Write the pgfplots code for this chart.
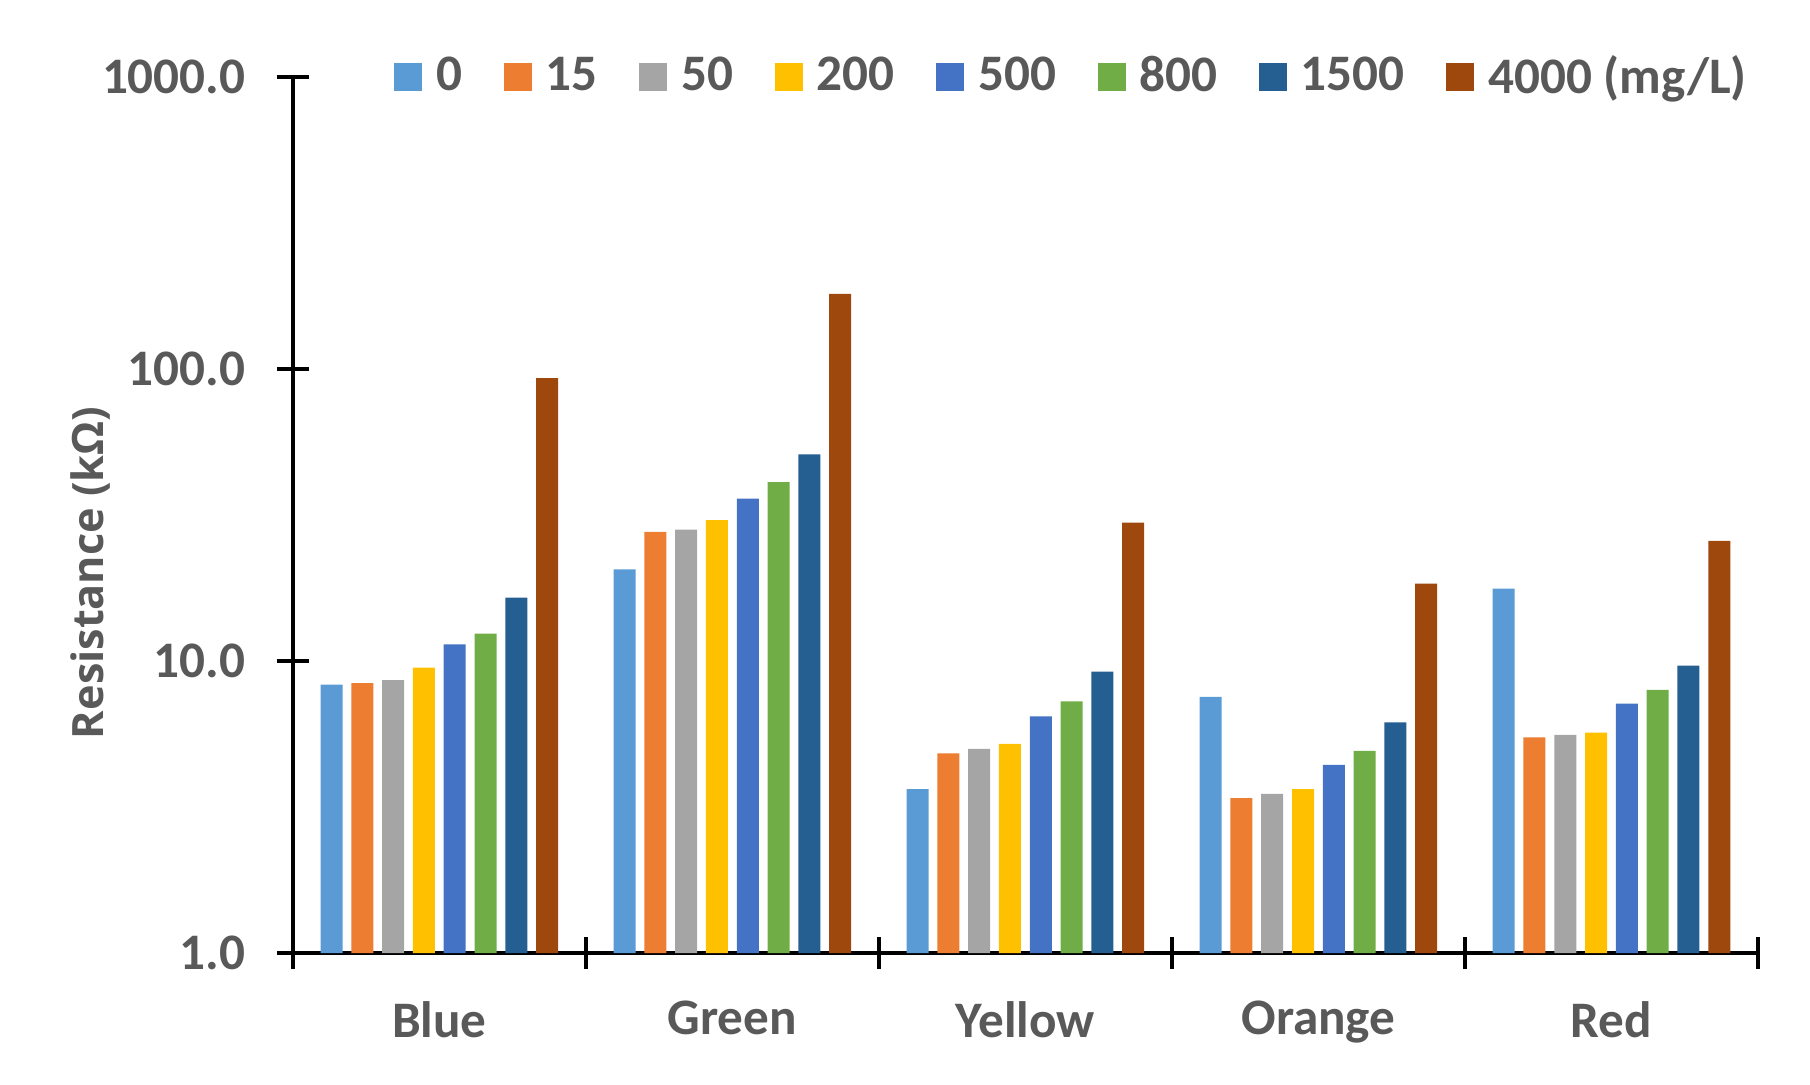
\documentclass[border=0pt]{standalone}
\usepackage{fontspec}
\setmainfont{Carlito}
\newfontfamily\labfont{Open Sans}
\usepackage{pgfplots}
\pgfplotsset{compat=1.18}

\definecolor{c0}{HTML}{5B9BD5}
\definecolor{c15}{HTML}{ED7D31}
\definecolor{c50}{HTML}{A5A5A5}
\definecolor{c200}{HTML}{FFC000}
\definecolor{c500}{HTML}{4472C4}
\definecolor{c800}{HTML}{70AD47}
\definecolor{c1500}{HTML}{255E91}
\definecolor{c4000}{HTML}{9E480E}
\definecolor{txt}{HTML}{595959}

\begin{document}
\begin{tikzpicture}
\path[use as bounding box] (-73.2pt,-32.75pt) rectangle (379.3pt,238.25pt);
\begin{axis}[
    at={(0,0)}, anchor=south west,
    scale only axis, width=366.3pt, height=219pt,
    ymode=log, ymin=1, ymax=1000,
    ytick={1,10,100,1000}, yticklabels={1.0,10.0,100.0,1000.0},
    yminorticks=false,
    xmin=-0.5, xmax=4.5,
    xtick={-0.5,0.5,1.5,2.5,3.5,4.5}, xticklabels={},
    extra x ticks={0,1,2,3,4},
    extra x tick labels={Blue,Green,Yellow,Orange,Red},
    extra x tick style={major tick length=0pt, xticklabel style={yshift=-8.5pt}},
    axis x line=bottom, axis y line=left,
    axis line style={-, line width=1pt, black},
    tick style={line width=1pt, black},
    tick align=center,
    xtick style={yshift=4pt},
    major tick length=8pt,
    tick label style={font=\fontsize{12.8}{15}\selectfont\bfseries, text=txt},
    yticklabel style={xshift=-4.3pt},
    /pgf/number format/assume math mode=true,
    ybar=2.2pt, bar width=5.5pt,
    ylabel={Resistance (kΩ)},
    every axis y label/.style={at={(axis description cs:-0.138,0.434)}, rotate=90, anchor=center},
    ylabel style={font=\labfont\bfseries\fontsize{10.8}{13}\selectfont, text=txt},
    legend columns=-1,
    legend style={at={(0.0604,1.0)}, anchor=west, draw=none, fill=none,
        font=\fontsize{12.8}{15}\selectfont\bfseries, text=txt,
        /tikz/every even column/.append style={column sep=8.4pt}},
    legend image code/.code={\fill[#1] (0pt,-3.5pt) rectangle (7pt,3.5pt); \path (8.5pt,0pt);},
]
\addplot[fill=c0, draw=none] coordinates {(0,8.3) (1,20.6) (2,3.64) (3,7.54) (4,17.7)};
\addplot[fill=c15, draw=none] coordinates {(0,8.4) (1,27.7) (2,4.83) (3,3.39) (4,5.48)};
\addplot[fill=c50, draw=none] coordinates {(0,8.6) (1,28.2) (2,5.0) (3,3.51) (4,5.58)};
\addplot[fill=c200, draw=none] coordinates {(0,9.5) (1,30.4) (2,5.2) (3,3.64) (4,5.69)};
\addplot[fill=c500, draw=none] coordinates {(0,11.4) (1,36.0) (2,6.46) (3,4.41) (4,7.14)};
\addplot[fill=c800, draw=none] coordinates {(0,12.4) (1,41.0) (2,7.27) (3,4.92) (4,7.96)};
\addplot[fill=c1500, draw=none] coordinates {(0,16.5) (1,51.0) (2,9.2) (3,6.17) (4,9.64)};
\addplot[fill=c4000, draw=none] coordinates {(0,93) (1,181) (2,29.8) (3,18.4) (4,25.8)};
\legend{0,15,50,200,500,800,1500,4000 (mg/L)}
\end{axis}
\end{tikzpicture}
\end{document}
